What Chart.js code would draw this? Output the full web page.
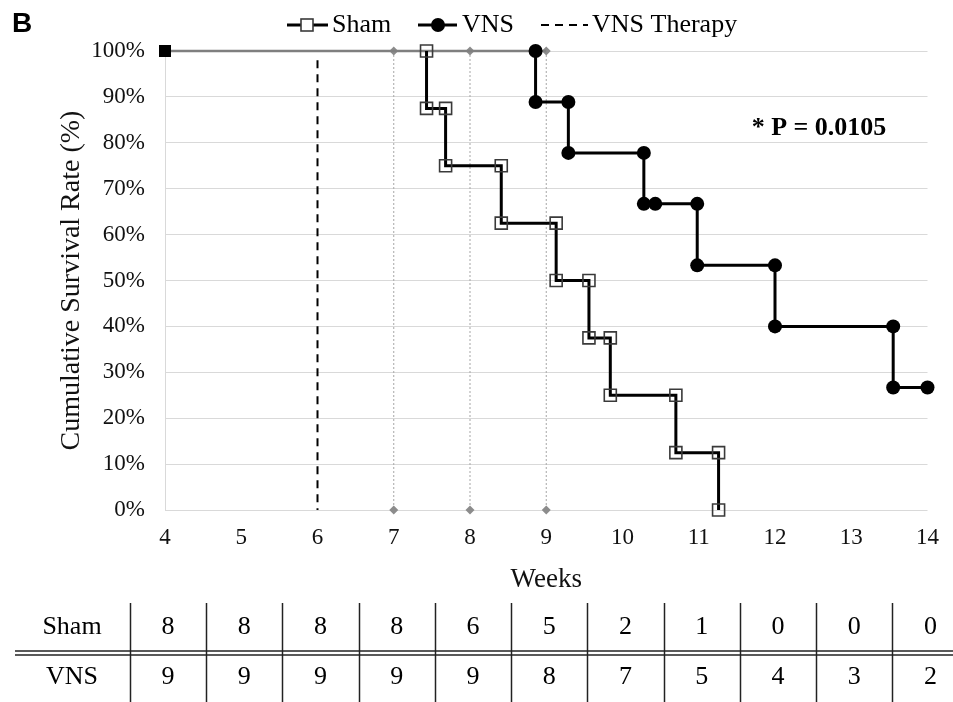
<!DOCTYPE html>
<html>
<head>
<meta charset="utf-8">
<script src="https://cdn.jsdelivr.net/npm/chart.js@4"></script>
<style>
  html, body { margin: 0; padding: 0; background: #fff; }
  #wrap { position: relative; width: 953px; height: 702px; }
</style>
</head>
<body>
<div id="wrap"><canvas id="chart"></canvas></div>
<script>
// values
const weeks = [4, 5, 6, 7, 8, 9, 10, 11, 12, 13, 14]
const yTicks = [0, 10, 20, 30, 40, 50, 60, 70, 80, 90, 100]

const shamWeeks = [7.43, 7.43, 7.68, 7.68, 8.41, 8.41, 9.13, 9.13, 9.56, 9.56, 9.84, 9.84, 10.70, 10.70, 11.26, 11.26]
const shamSurvival = [100, 87.5, 87.5, 75, 75, 62.5, 62.5, 50, 50, 37.5, 37.5, 25, 25, 12.5, 12.5, 0]

const vnsWeeks = [8.86, 8.86, 9.29, 9.29, 10.28, 10.28, 10.43, 10.98, 10.98, 12.0, 12.0, 13.55, 13.55, 14.0]
const vnsSurvival = [100, 88.9, 88.9, 77.8, 77.8, 66.7, 66.7, 66.7, 53.3, 53.3, 40, 40, 26.7, 26.7]

const baselineWeeks = [4, 9]
const baselineSurvival = [100, 100]
const markerWeeks = [7, 8, 9]
const therapyWeek = 6
const therapyRange = [98, 0]

const shamAtRisk = [8, 8, 8, 8, 6, 5, 2, 1, 0, 0, 0]
const vnsAtRisk = [9, 9, 9, 9, 9, 8, 7, 5, 4, 3, 2]
const pValueText = "* P = 0.0105"

const SERIF = '"Liberation Serif", "Times New Roman", serif'
const toPoints = (xs, ys) => xs.map((x, i) => ({ x, y: ys[i] }))

const datasets = [
  {
    label: "Sham",
    data: toPoints(shamWeeks, shamSurvival),
    borderColor: "#000",
    borderWidth: 3,
    pointStyle: "rect",
    pointRadius: 8.5,
    pointBorderColor: "#3a3a3a",
    pointBorderWidth: 1.6,
    pointBackgroundColor: "rgba(0,0,0,0)",
    clip: false
  },
  {
    label: "VNS",
    data: toPoints(vnsWeeks, vnsSurvival),
    borderColor: "#000",
    borderWidth: 3,
    pointStyle: "circle",
    pointRadius: 7,
    pointBorderWidth: 0,
    pointBackgroundColor: "#000",
    clip: false
  },
  {
    label: "VNS Therapy",
    data: [{ x: therapyWeek, y: therapyRange[0] }, { x: therapyWeek, y: therapyRange[1] }],
    borderColor: "#000",
    borderWidth: 2,
    borderDash: [8, 6],
    pointRadius: 0,
    clip: false
  },
  {
    label: "baseline",
    data: toPoints(baselineWeeks, baselineSurvival),
    borderColor: "#7f7f7f",
    borderWidth: 2.5,
    pointStyle: "rect",
    pointRadius: [8.5, 0],
    pointBorderWidth: 0,
    pointBackgroundColor: "#000",
    clip: false
  },
  ...markerWeeks.map(w => ({
    label: "marker" + w,
    data: [{ x: w, y: 100 }, { x: w, y: 0 }],
    borderColor: "#a6a6a6",
    borderWidth: 1,
    borderDash: [2, 2],
    pointStyle: "rectRot",
    pointRadius: 4.5,
    pointBorderWidth: 0,
    pointBackgroundColor: "#8c8c8c",
    clip: false
  }))
]

// legend, panel letter, p value and the at-risk table
const extras = {
  id: "extras",
  afterDraw(chart) {
    const { ctx, scales: { x } } = chart
    ctx.save()

    ctx.fillStyle = "#000"
    ctx.textBaseline = "middle"
    ctx.font = 'bold 28px "Liberation Sans", Arial, sans-serif'
    ctx.textAlign = "left"
    ctx.fillText("B", 12, 24)

    // legend
    const ly = 25
    ctx.strokeStyle = "#000"
    ctx.lineWidth = 3
    ctx.beginPath(); ctx.moveTo(287, ly); ctx.lineTo(328, ly); ctx.stroke()
    ctx.fillStyle = "#fff"
    ctx.fillRect(301, ly - 6, 12, 12)
    ctx.lineWidth = 1.6
    ctx.strokeStyle = "#3a3a3a"
    ctx.strokeRect(301, ly - 6, 12, 12)
    ctx.strokeStyle = "#000"
    ctx.lineWidth = 3
    ctx.beginPath(); ctx.moveTo(418, ly); ctx.lineTo(457, ly); ctx.stroke()
    ctx.fillStyle = "#000"
    ctx.beginPath(); ctx.arc(438, ly, 7, 0, Math.PI * 2); ctx.fill()
    ctx.lineWidth = 2
    ctx.setLineDash([8, 6])
    ctx.beginPath(); ctx.moveTo(541, ly); ctx.lineTo(588, ly); ctx.stroke()
    ctx.setLineDash([])
    ctx.font = "26px " + SERIF
    ctx.fillText("Sham", 332, ly)
    ctx.fillText("VNS", 462, ly)
    ctx.fillText("VNS Therapy", 592, ly)

    // p value
    ctx.font = "bold 26px " + SERIF
    ctx.textAlign = "center"
    ctx.fillText(pValueText, 819, 128)

    // at-risk table
    const step = x.getPixelForValue(5) - x.getPixelForValue(4)
    const rows = [["Sham", shamAtRisk, 627], ["VNS", vnsAtRisk, 677]]
    ctx.font = "26px " + SERIF
    rows.forEach(([name, vals, y]) => {
      ctx.fillText(name, 72, y)
      vals.forEach((v, i) => ctx.fillText(String(v), x.getPixelForValue(weeks[i]) + 3, y))
    })
    ctx.strokeStyle = "#222"
    ctx.lineWidth = 1.5
    weeks.forEach(w => {
      const px = Math.round(x.getPixelForValue(w) - step / 2 + 3) + 0.5
      ctx.beginPath(); ctx.moveTo(px, 603); ctx.lineTo(px, 702); ctx.stroke()
    })
    ctx.beginPath(); ctx.moveTo(15, 651); ctx.lineTo(953, 651); ctx.stroke()
    ctx.beginPath(); ctx.moveTo(15, 655); ctx.lineTo(953, 655); ctx.stroke()

    ctx.restore()
  }
}

new Chart(document.getElementById("chart"), {
  type: "line",
  data: { datasets },
  plugins: [extras],
  options: {
    responsive: true,
    maintainAspectRatio: false,
    devicePixelRatio: 1,
    animation: false,
    layout: { padding: { top: 51, right: 24, bottom: 102, left: 51 } },
    plugins: { legend: { display: false }, tooltip: { enabled: false } },
    scales: {
      x: {
        type: "linear",
        min: weeks[0],
        max: weeks[weeks.length - 1],
        afterFit: s => { s.height = 90 },
        afterBuildTicks: s => { s.ticks = weeks.map(v => ({ value: v })) },
        grid: { display: false, drawTicks: false },
        border: { display: false },
        ticks: { color: "#111", padding: 14, font: { family: SERIF, size: 23 } },
        title: { display: true, text: "Weeks", color: "#111", font: { family: SERIF, size: 27 } }
      },
      y: {
        min: 0,
        max: 100,
        afterFit: s => { s.width = 114 },
        afterBuildTicks: s => { s.ticks = yTicks.map(v => ({ value: v })) },
        grid: { color: "#d9d9d9", drawTicks: false },
        border: { color: "#d9d9d9" },
        ticks: { color: "#111", padding: 20, callback: v => v + "%", font: { family: SERIF, size: 23 } },
        title: { display: true, text: "Cumulative Survival Rate (%)", color: "#111", font: { family: SERIF, size: 28 } }
      }
    }
  }
})
</script>
</body>
</html>
